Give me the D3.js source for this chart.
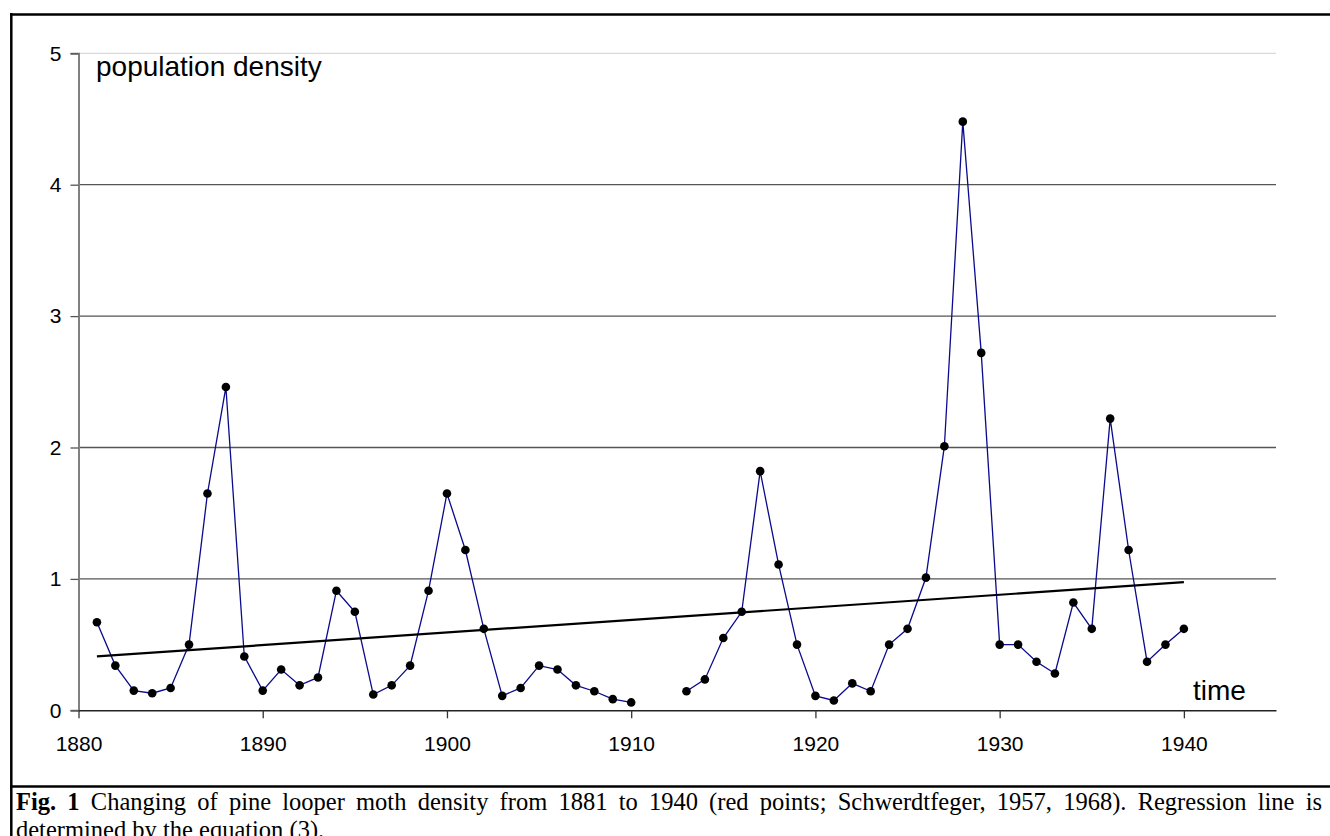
<!DOCTYPE html>
<html>
<head>
<meta charset="utf-8">
<script src="https://cdn.jsdelivr.net/npm/d3@7"></script>
<style>
  html, body { margin: 0; padding: 0; background: #fff; }
  #wrap { position: relative; width: 1330px; height: 836px; overflow: hidden; }
  svg { position: absolute; left: 0; top: 0; }
  #caption {
    position: absolute; left: 16px; top: 788px; width: 1306px;
    font-family: "Liberation Serif", "Times New Roman", serif;
    font-size: 24.5px; line-height: 28px; text-align: justify; color: #000;
  }
</style>
</head>
<body>
<div id="wrap">
  <svg id="chart" width="1330" height="836"></svg>
  <div id="caption"><b>Fig. 1</b> Changing of pine looper moth density from 1881 to 1940 (red points; Schwerdtfeger, 1957, 1968). Regression line is determined by the equation (3).</div>
</div>
<script>
// Pine looper moth density by year (null = no record)
const years = d3.range(1881, 1941);
const density = [
  0.67, 0.34, 0.15, 0.13, 0.17, 0.50, 1.65, 2.46, 0.41, 0.15,
  0.31, 0.19, 0.25, 0.91, 0.75, 0.12, 0.19, 0.34, 0.91, 1.65,
  1.22, 0.62, 0.11, 0.17, 0.34, 0.31, 0.19, 0.145, 0.085, 0.06,
  null, null, 0.145, 0.235, 0.55, 0.75, 1.82, 1.11, 0.50, 0.11,
  0.075, 0.205, 0.145, 0.50, 0.62, 1.01, 2.01, 4.48, 2.72, 0.50,
  0.50, 0.37, 0.28, 0.82, 0.62, 2.22, 1.22, 0.37, 0.50, 0.62
];
// Regression line end points
const regYears = [1881, 1940];
const regValues = [0.41, 0.975];

const xTicks = [1880, 1890, 1900, 1910, 1920, 1930, 1940];
const yTicks = [0, 1, 2, 3, 4, 5];

const points = years.map((yr, i) => ({ year: yr, value: density[i] }));

const svg = d3.select("#chart");
const x = d3.scaleLinear().domain([1880, 1945]).range([78.5, 1276]);
const y = d3.scaleLinear().domain([0, 5]).range([710.3, 53.3]);

const sans = "'Liberation Sans', Arial, sans-serif";

// frame around chart and caption
svg.append("line").attr("x1", 10).attr("x2", 1330).attr("y1", 14.5).attr("y2", 14.5)
  .attr("stroke", "#000").attr("stroke-width", 2.5);
svg.append("line").attr("x1", 11.3).attr("x2", 11.3).attr("y1", 13).attr("y2", 836)
  .attr("stroke", "#000").attr("stroke-width", 2.5);
svg.append("line").attr("x1", 10).attr("x2", 1330).attr("y1", 786.5).attr("y2", 786.5)
  .attr("stroke", "#000").attr("stroke-width", 2.5);

// horizontal gridlines
svg.append("g").selectAll("line").data(yTicks.filter(d => d > 0)).join("line")
  .attr("x1", x(1880)).attr("x2", x(1945))
  .attr("y1", d => y(d)).attr("y2", d => y(d))
  .attr("stroke", d => d === 5 ? "#d9d9d9" : "#555")
  .attr("stroke-width", 1.3);

// y axis
const yAxis = d3.axisLeft(y).tickValues(yTicks).tickSize(8).tickPadding(9).tickFormat(d3.format("d"));
const gy = svg.append("g").attr("transform", `translate(${x(1880)},0)`).call(yAxis);
gy.select(".domain").attr("stroke", "#808080").attr("stroke-width", 2);
gy.selectAll(".tick line").attr("stroke", "#555").attr("stroke-width", 1.3);
gy.selectAll("text").attr("font-family", sans).attr("font-size", 21).attr("fill", "#000");

// x axis
const xAxis = d3.axisBottom(x).tickValues(xTicks).tickSize(8).tickPadding(18).tickSizeOuter(0).tickFormat(d3.format("d"));
const gx = svg.append("g").attr("transform", `translate(0,${y(0)})`).call(xAxis);
gx.select(".domain").attr("stroke", "#222").attr("stroke-width", 1.5);
gx.selectAll(".tick line").attr("stroke", "#333").attr("stroke-width", 1.3);
gx.selectAll("text").attr("font-family", sans).attr("font-size", 21).attr("fill", "#000");

// density series
const line = d3.line().defined(d => d.value !== null).x(d => x(d.year)).y(d => y(d.value));
svg.append("path").datum(points).attr("d", line)
  .attr("fill", "none").attr("stroke", "#0a0a8c").attr("stroke-width", 1.3);

// regression line
svg.append("line")
  .attr("x1", x(regYears[0])).attr("y1", y(regValues[0]))
  .attr("x2", x(regYears[1])).attr("y2", y(regValues[1]))
  .attr("stroke", "#000").attr("stroke-width", 2.2);

// markers
svg.append("g").selectAll("circle").data(points.filter(d => d.value !== null)).join("circle")
  .attr("cx", d => x(d.year)).attr("cy", d => y(d.value)).attr("r", 4.3).attr("fill", "#000");

// axis titles
svg.append("text").attr("x", 96).attr("y", 76).text("population density")
  .attr("font-family", sans).attr("font-size", 28).attr("fill", "#000");
svg.append("text").attr("x", 1193).attr("y", 700).text("time")
  .attr("font-family", sans).attr("font-size", 28).attr("fill", "#000");
</script>
</body>
</html>
